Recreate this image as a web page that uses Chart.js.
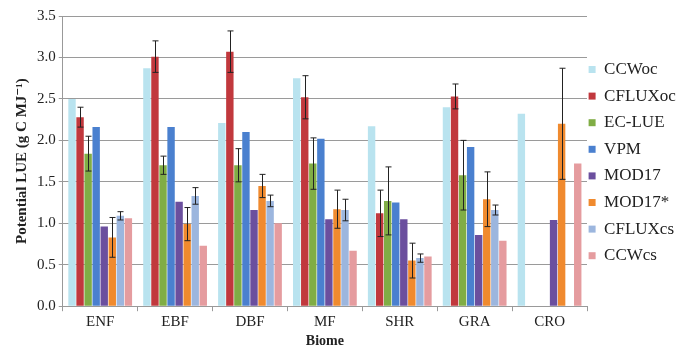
<!DOCTYPE html>
<html>
<head>
<meta charset="utf-8">
<script src="https://cdn.jsdelivr.net/npm/chart.js@4"></script>
<style>
  html, body { margin: 0; padding: 0; background: #fff; }
  #wrap { width: 676px; height: 355px; }
</style>
</head>
<body>
<div id="wrap"><canvas id="lueChart" width="676" height="355"></canvas></div>
<script>
const biomes = ["ENF", "EBF", "DBF", "MF", "SHR", "GRA", "CRO"];

const ccwoc    = [2.50, 2.87, 2.21, 2.75, 2.17, 2.40, 2.32];
const cfluxoc  = [2.28, 3.01, 3.07, 2.52, 1.12, 2.53, null];
const ecLue    = [1.84, 1.70, 1.70, 1.72, 1.27, 1.58, null];
const vpm      = [2.16, 2.16, 2.10, 2.02, 1.25, 1.92, null];
const mod17    = [0.96, 1.26, 1.16, 1.05, 1.05, 0.86, 1.04];
const mod17s   = [0.83, 0.99, 1.45, 1.17, 0.55, 1.29, 2.20];
const cfluxcs  = [1.09, 1.33, 1.27, 1.16, 0.58, 1.16, null];
const ccwcs    = [1.06, 0.73, 1.00, 0.67, 0.60, 0.79, 1.72];

// error bar half-widths (null = no bar)
const cfluxocErr = [0.12, 0.19, 0.25, 0.26, 0.28, 0.15, null];
const ecLueErr   = [0.21, 0.11, 0.20, 0.31, 0.41, 0.42, null];
const mod17sErr  = [0.24, 0.20, 0.14, 0.23, 0.21, 0.33, 0.67];
const cfluxcsErr = [0.05, 0.10, 0.07, 0.13, 0.05, 0.06, null];

const serif = "'Liberation Serif', 'DejaVu Serif', serif";
Chart.defaults.font.family = serif;

const errorBars = {
  id: "errorBars",
  afterDatasetsDraw(chart) {
    const ctx = chart.ctx;
    const y = chart.scales.y;
    ctx.save();
    ctx.strokeStyle = "#222";
    ctx.lineWidth = 1;
    chart.data.datasets.forEach((ds, i) => {
      if (!ds.errors) return;
      const meta = chart.getDatasetMeta(i);
      ds.errors.forEach((e, j) => {
        const v = ds.data[j];
        if (e == null || v == null) return;
        const x = Math.round(meta.data[j].x) + 0.5;
        const top = y.getPixelForValue(v + e);
        const bot = y.getPixelForValue(v - e);
        ctx.beginPath();
        ctx.moveTo(x, top); ctx.lineTo(x, bot);
        ctx.moveTo(x - 3, top); ctx.lineTo(x + 3, top);
        ctx.moveTo(x - 3, bot); ctx.lineTo(x + 3, bot);
        ctx.stroke();
      });
    });
    ctx.restore();
  }
};

// pull the legend a little closer to the plot
const legendNudge = {
  id: "legendNudge",
  afterLayout(chart) {
    chart.legend.left -= 8;
  }
};

new Chart("lueChart", {
  type: "bar",
  data: {
    labels: biomes,
    datasets: [
      { label: "CCWoc", data: ccwoc, backgroundColor: "#b9e3ef" },
      { label: "CFLUXoc", data: cfluxoc, backgroundColor: "#c1383d", errors: cfluxocErr },
      { label: "EC-LUE", data: ecLue, backgroundColor: "#80ad45", errors: ecLueErr },
      { label: "VPM", data: vpm, backgroundColor: "#4a80cf" },
      { label: "MOD17", data: mod17, backgroundColor: "#6b4f9e" },
      { label: "MOD17*", data: mod17s, backgroundColor: "#f08a2e", errors: mod17sErr },
      { label: "CFLUXcs", data: cfluxcs, backgroundColor: "#9cb6de", errors: cfluxcsErr },
      { label: "CCWcs", data: ccwcs, backgroundColor: "#e59c9f" }
    ]
  },
  plugins: [errorBars, legendNudge],
  options: {
    responsive: false,
    animation: false,
    barPercentage: 0.92,
    categoryPercentage: 0.86,
    layout: { padding: { top: 16, right: 0, bottom: 5, left: 9 } },
    scales: {
      x: {
        grid: { display: true, drawOnChartArea: false, offset: true, tickLength: 5, color: "#999" },
        border: { color: "#999" },
        ticks: { color: "#222", font: { family: serif, size: 15 }, padding: 2 },
        title: {
          display: true,
          text: "Biome",
          color: "#222",
          font: { family: serif, size: 14, weight: "bold" },
          padding: { top: 0, bottom: 0 }
        }
      },
      y: {
        min: 0,
        max: 3.5,
        ticks: {
          stepSize: 0.5,
          color: "#222",
          font: { family: serif, size: 15 },
          callback: v => v.toFixed(1)
        },
        grid: { color: "#9a9a9a", tickLength: 4 },
        border: { color: "#999" },
        title: {
          display: true,
          text: "Potential LUE (g C MJ\u207B\u00B9)",
          color: "#222",
          font: { family: serif, size: 15, weight: "bold" },
          padding: { bottom: 3 }
        }
      }
    },
    plugins: {
      legend: {
        display: true,
        position: "right",
        align: "start",
        maxWidth: 89,
        title: { display: true, text: " ", font: { size: 12 }, padding: { top: 0, bottom: 21 } },
        labels: {
          boxWidth: 7,
          boxHeight: 7,
          padding: 9.6,
          color: "#222",
          font: { family: serif, size: 17 }
        }
      },
      tooltip: { enabled: false }
    }
  }
});
</script>
</body>
</html>
